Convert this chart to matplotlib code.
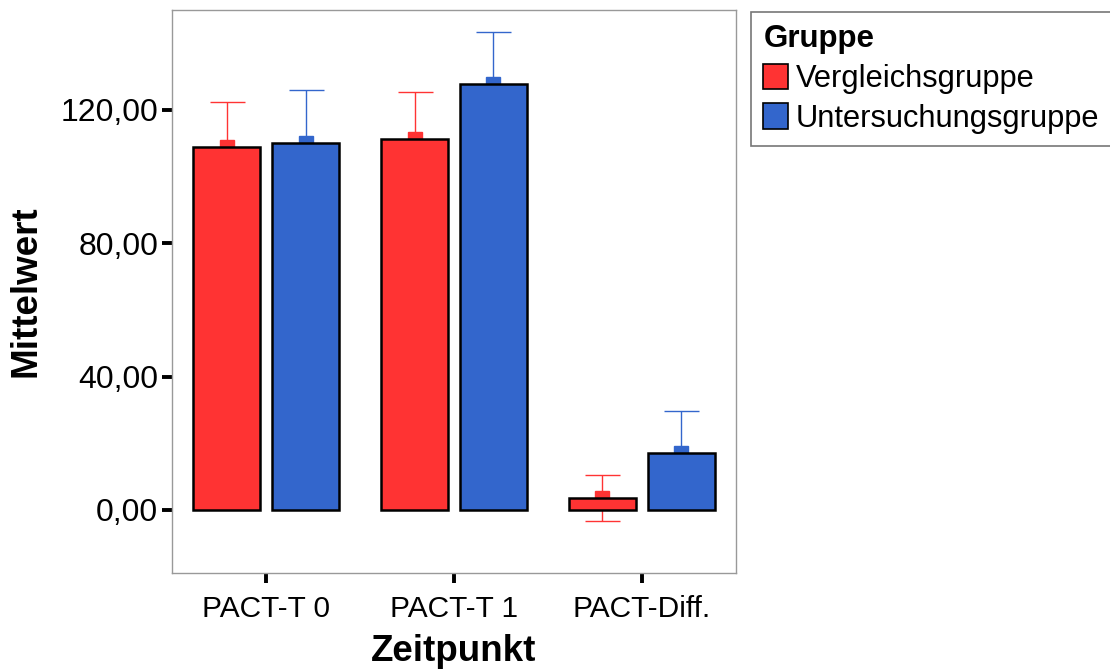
import matplotlib
matplotlib.use("Agg")
import matplotlib.pyplot as plt
import numpy as np
from matplotlib.patches import Patch

plt.rcParams['font.family'] = ['Liberation Sans', 'DejaVu Sans']

categories = ["PACT-T 0", "PACT-T 1", "PACT-Diff."]
groups = ["Vergleichsgruppe", "Untersuchungsgruppe"]
means_vergleich = [109.0, 111.4, 3.6]
means_untersuchung = [110.2, 127.8, 17.0]
err_vergleich = [13.5, 14.0, 6.8]
err_untersuchung = [15.7, 15.7, 12.8]
yticks = [0, 40, 80, 120]
colors = ["#FF3333", "#3366CC"]

fig = plt.figure(figsize=(11.1, 6.7), dpi=100)
ax = fig.add_axes([0.155, 0.1448, 0.508, 0.8403])

x = np.arange(len(categories))
width = 0.357
offsets = [-0.21, 0.21]
series = [means_vergleich, means_untersuchung]
errs = [err_vergleich, err_untersuchung]

for i in range(2):
    xs = x + offsets[i]
    ax.errorbar(xs, series[i], yerr=errs[i], fmt='s', color=colors[i],
                markersize=9.5, elinewidth=1.0, capsize=12.6, capthick=1.0,
                ecolor=colors[i], zorder=1)
    ax.bar(xs, series[i], width=width, color=colors[i], edgecolor='black',
           linewidth=1.8, zorder=2)

ax.set_xlim(-0.5, 2.5)
ax.set_ylim(-18.9, 150)
ax.set_xticks(x)
ax.set_xticklabels(categories, fontsize=21.5)
ax.set_yticks(yticks)
ax.set_yticklabels([f"{v:.2f}".replace('.', ',') for v in yticks], fontsize=23)
ax.tick_params(axis='both', direction='out', length=7, width=2.8, color='black', pad=3)
ax.tick_params(axis='x', pad=9)
for s in ax.spines.values():
    s.set_color('#999999')
    s.set_linewidth(1.0)

ax.set_xlabel("Zeitpunkt", fontsize=26.5, fontweight='bold', labelpad=8)
ax.set_ylabel("Mittelwert", fontsize=26.5, fontweight='bold', labelpad=12)

handles = [Patch(facecolor=colors[i], edgecolor='black', linewidth=1.2) for i in range(2)]
leg = fig.legend(handles, groups, title="Gruppe", loc='upper left',
                 bbox_to_anchor=(751/1110, 1 - 12/670), fontsize=22.2,
                 title_fontproperties={'weight': 'bold', 'size': 22.5},
                 alignment='left', frameon=True, fancybox=False,
                 edgecolor='#555555', handlelength=0.8, handleheight=0.9,
                 handletextpad=0.25, borderpad=0.4, labelspacing=0.3,
                 borderaxespad=0)
leg.get_frame().set_linewidth(1.2)

fig.savefig("out.png", dpi=100)
